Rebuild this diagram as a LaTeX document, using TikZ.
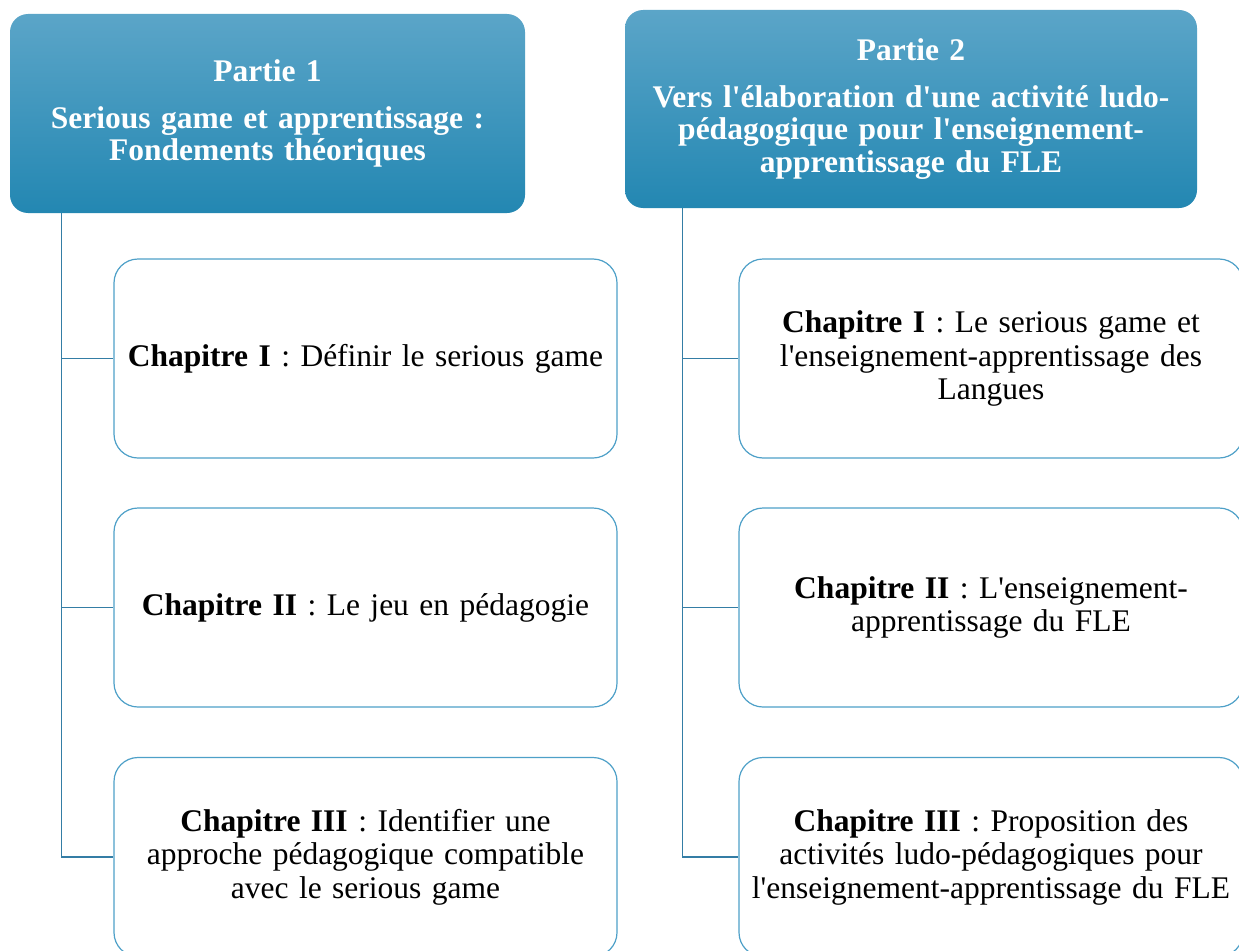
\documentclass[tikz,border=0pt]{standalone}
\usepackage{fontspec}
\setmainfont{Liberation Serif}[WordSpace=0.8]
\usetikzlibrary{calc}
\newcommand{\ap}{\textquotesingle}
\definecolor{hdtop}{RGB}{91,165,200}
\definecolor{hdbot}{RGB}{35,135,178}
\definecolor{boxline}{RGB}{78,160,200}
\definecolor{connline}{RGB}{52,125,165}
\tikzset{
  header/.style={rounded corners=18pt, top color=hdtop, bottom color=hdbot, draw=none,
    text=white, align=center, inner sep=0pt, font=\fontsize{31.5}{32.5}\selectfont\bfseries},
  chapbox/.style={draw=boxline, line width=1.2pt, rounded corners=24pt, fill=white,
    minimum width=503pt, minimum height=199pt, text width=496pt, align=center, inner sep=0pt,
    font=\fontsize{31.5}{33.5}\selectfont},
  conn/.style={draw=connline, line width=1.2pt}
}
\begin{document}
\begin{tikzpicture}[x=1pt,y=-1pt]
\useasboundingbox (0,0) rectangle (1239,950);
\clip (0,0) rectangle (1239,950);
\node[header, minimum width=515pt, minimum height=199pt, text width=505pt] (h1) at (267.5,113.5)
  {Partie 1\par\vspace{14pt}Serious game et apprentissage :\\ Fondements théoriques};
\node[header, minimum width=572pt, minimum height=198pt, text width=560pt] (h2) at (911,109)
  {Partie 2\par\vspace{14pt}Vers l\ap élaboration d\ap une activité ludo-\\pédagogique pour l\ap enseignement-\\apprentissage du FLE};
\node[chapbox] (a1) at (365.5,358.5) {\textbf{Chapitre I} : Définir le serious game};
\node[chapbox] (a2) at (365.5,607.5) {\textbf{Chapitre II} : Le jeu en pédagogie};
\node[chapbox] (a3) at (365.5,857) {\textbf{Chapitre III} : Identifier une\\ approche pédagogique compatible\\ avec le serious game};
\node[chapbox, minimum width=504pt] (b1) at (991,358.5) {\textbf{Chapitre I} : Le serious game et\\ l\ap enseignement-apprentissage des\\ Langues};
\node[chapbox, minimum width=504pt] (b2) at (991,607.5) {\textbf{Chapitre II} : L\ap enseignement-\\apprentissage du FLE};
\node[chapbox, minimum width=504pt] (b3) at (991,857) {\textbf{Chapitre III} : Proposition des\\ activités ludo-pédagogiques pour\\ l\ap enseignement-apprentissage du FLE};
\coordinate (ha) at ($(h1.south west)+(52,0)$);
\coordinate (hb) at ($(h2.south west)+(58,0)$);
\draw[conn] (ha) |- (a1.west);
\draw[conn] (ha) |- (a2.west);
\draw[conn] (ha) |- (a3.west);
\draw[conn] (hb) |- (b1.west);
\draw[conn] (hb) |- (b2.west);
\draw[conn] (hb) |- (b3.west);
\end{tikzpicture}
\end{document}
